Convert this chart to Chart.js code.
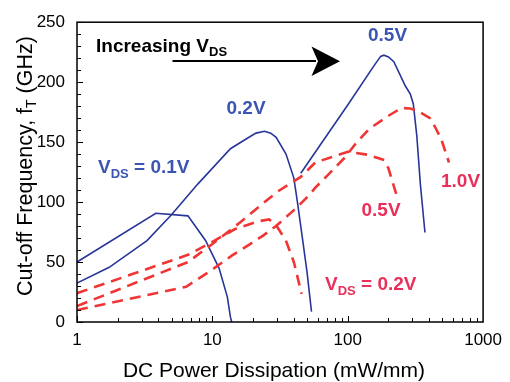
<!DOCTYPE html>
<html><head><meta charset="utf-8">
<script src="https://cdn.jsdelivr.net/npm/chart.js@4.4.1/dist/chart.umd.min.js"></script>
<style>html,body{margin:0;padding:0;background:#fff}#wrap{width:510px;height:382px;position:relative}</style>
</head><body><div id="wrap"><canvas id="c" width="510" height="382"></canvas></div>
<script>
// ---- tick labels ----
const xTickLabels = ['1', '10', '100', '1000'];
const yTickValues = [0, 50, 100, 150, 200, 250];

// ---- HEMT fT vs DC power (blue solid: low VDS, red dashed: higher VDS) ----
const blue01X = [1, 3.82, 6.6, 8.9, 11.2, 12.9, 13.6, 13.9];
const blue01Y = [50, 90.7, 88.5, 68, 45, 21, 4, 0];

const blue02X = [1, 1.73, 3.29, 4.99, 7.8, 13.6, 18, 21, 24.3, 27, 29.6, 35, 40, 42.5, 46, 50, 54];
const blue02Y = [32.4, 45.6, 67.9, 89.4, 115, 144.5, 153, 157.5, 159, 157.5, 154, 140, 120, 100, 72, 42, 8.7];

const blue05X = [45, 100, 157, 175, 185, 200, 219, 266, 290, 305, 324, 344, 372];
const blue05Y = [124, 181, 214, 221.5, 222.5, 221, 217, 197, 190, 182, 155, 115, 74.6];

const red02X = [1, 6.6, 9.7, 14.7, 21.8, 26.3, 29.5, 34.9, 40, 45.6];
const red02Y = [24, 56, 66, 77.5, 84, 85.5, 81, 68, 50, 23.5];

const red05X = [1, 6.6, 10, 16, 24.3, 31, 45, 57.6, 100, 140, 186, 200, 232];
const red05Y = [13.3, 50, 65, 83, 100, 109.5, 121, 133, 142, 139.5, 135, 128, 104];

const red10X = [1, 6.4, 9.5, 14, 19, 23.7, 29.5, 38, 42.5, 51.6, 57.6, 70, 95, 115, 144, 200, 250, 290, 330, 405, 440, 490, 560];
const red10Y = [10, 29.4, 42, 55.5, 65, 72, 80, 91, 96, 105.5, 112, 121.6, 137, 149, 161, 172, 178.5, 178, 176, 170, 163, 152.6, 133];

const BLUE_LINE = '#28369a', BLUE_TEXT = '#3b55b2';
const RED_LINE = '#f03535', RED_TEXT = '#e8305a';
const FONT = '"Liberation Sans", Arial, Helvetica, sans-serif';

function pts(xs, ys) { return xs.map((x, i) => ({ x: x, y: ys[i] })); }
function blueSet(xs, ys) {
  return { data: pts(xs, ys), borderColor: BLUE_LINE, borderWidth: 1.6, pointRadius: 0, fill: false, tension: 0 };
}
function redSet(xs, ys) {
  return { data: pts(xs, ys), borderColor: RED_LINE, borderWidth: 2.6, borderDash: [11, 7], pointRadius: 0, fill: false, tension: 0 };
}

function drawRuns(ctx, x, y, runs) {
  for (const r of runs) {
    ctx.font = r.font;
    ctx.fillText(r.t, x, y + (r.dy || 0));
    x += ctx.measureText(r.t).width;
  }
}

const decor = {
  id: 'decor',
  afterDraw(chart) {
    const ctx = chart.ctx, a = chart.chartArea;
    const xs = chart.scales.x, ys = chart.scales.y;
    ctx.save();
    // frame
    ctx.strokeStyle = '#000'; ctx.lineWidth = 1.5;
    ctx.strokeRect(a.left, a.top, a.right - a.left, a.bottom - a.top);
    // inward ticks
    ctx.lineWidth = 1;
    ctx.beginPath();
    for (let v = 0; v <= 250; v += 10) {
      const p = Math.round(ys.getPixelForValue(v)) + 0.5;
      const len = v % 50 === 0 ? 6 : 4;
      ctx.moveTo(a.left, p); ctx.lineTo(a.left + len, p);
    }
    for (let k = 0; k < 3; k++) {
      for (let m = 1; m <= 9; m++) {
        const v = m * Math.pow(10, k);
        const p = Math.round(xs.getPixelForValue(v)) + 0.5;
        const len = m === 1 ? 6 : 4;
        ctx.moveTo(p, a.bottom); ctx.lineTo(p, a.bottom - len);
      }
    }
    ctx.stroke();

    // axis titles
    ctx.fillStyle = '#000';
    ctx.textBaseline = 'alphabetic';
    ctx.textAlign = 'left';
    ctx.font = '21px ' + FONT;
    const xt = 'DC Power Dissipation (mW/mm)';
    const xw = ctx.measureText(xt).width;
    ctx.fillText(xt, 274 - xw / 2, 377);

    const yRuns = [
      { t: 'Cut-off Frequency, f', font: '21.5px ' + FONT },
      { t: 'T', font: '14px ' + FONT, dy: 4 },
      { t: ' (GHz)', font: '21.5px ' + FONT }
    ];
    let yw = 0;
    for (const r of yRuns) { ctx.font = r.font; yw += ctx.measureText(r.t).width; }
    ctx.save();
    ctx.translate(31.5, 166);
    ctx.rotate(-Math.PI / 2);
    drawRuns(ctx, -yw / 2, 0, yRuns);
    ctx.restore();

    // annotations
    const B = 'bold 19px ' + FONT, S = 'bold 13px ' + FONT;
    ctx.fillStyle = '#000';
    drawRuns(ctx, 96, 51.7, [{ t: 'Increasing V', font: B }, { t: 'DS', font: S, dy: 4 }]);
    // arrow
    ctx.strokeStyle = '#000'; ctx.lineWidth = 2;
    ctx.beginPath(); ctx.moveTo(172.5, 61); ctx.lineTo(316, 61); ctx.stroke();
    ctx.beginPath();
    ctx.moveTo(311.5, 46.5); ctx.lineTo(340, 61.2); ctx.lineTo(311.5, 76); ctx.lineTo(318, 61.2); ctx.closePath();
    ctx.fill();

    ctx.fillStyle = BLUE_TEXT;
    drawRuns(ctx, 98, 173.3, [{ t: 'V', font: B }, { t: 'DS', font: S, dy: 5 }, { t: ' = 0.1V', font: B }]);
    drawRuns(ctx, 226.5, 114, [{ t: '0.2V', font: B }]);
    drawRuns(ctx, 368, 40.7, [{ t: '0.5V', font: B }]);

    ctx.fillStyle = RED_TEXT;
    drawRuns(ctx, 441, 187.3, [{ t: '1.0V', font: B }]);
    drawRuns(ctx, 361.5, 216, [{ t: '0.5V', font: B }]);
    drawRuns(ctx, 325, 290, [{ t: 'V', font: B }, { t: 'DS', font: S, dy: 5 }, { t: ' = 0.2V', font: B }]);
    ctx.restore();
  }
};

Chart.defaults.font.family = FONT;
new Chart(document.getElementById('c'), {
  type: 'line',
  data: {
    datasets: [
      redSet(red02X, red02Y),
      redSet(red05X, red05Y),
      redSet(red10X, red10Y),
      blueSet(blue01X, blue01Y),
      blueSet(blue02X, blue02Y),
      blueSet(blue05X, blue05Y)
    ]
  },
  options: {
    responsive: false,
    devicePixelRatio: 1,
    animation: false,
    layout: { padding: { top: 12, right: 19, left: 0, bottom: 0 } },
    plugins: { legend: { display: false }, tooltip: { enabled: false }, title: { display: false } },
    scales: {
      x: {
        type: 'logarithmic', min: 1, max: 1000,
        grid: { display: false, drawTicks: false },
        border: { display: false },
        ticks: {
          autoSkip: false, maxRotation: 0, minRotation: 0, padding: 8, color: '#000',
          font: { size: 17 },
          callback: (v) => {
            const s = String(Math.round(v));
            return (Math.abs(Math.log10(v) - Math.round(Math.log10(v))) < 1e-9 && xTickLabels.includes(s)) ? s : '';
          }
        },
        afterFit: (s) => { s.height = 60; }
      },
      y: {
        type: 'linear', min: 0, max: 250,
        grid: { display: false, drawTicks: false },
        border: { display: false },
        afterBuildTicks: (s) => { s.ticks = yTickValues.map(v => ({ value: v })); },
        ticks: { padding: 12, color: '#000', font: { size: 17 } },
        afterFit: (s) => { s.width = 77; }
      }
    }
  },
  plugins: [decor]
});
</script></body></html>
